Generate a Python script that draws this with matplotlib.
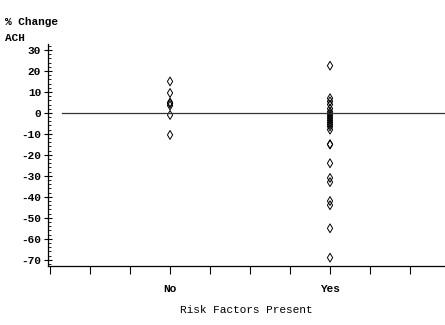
import numpy as np
import matplotlib
matplotlib.use("Agg")
import matplotlib.pyplot as plt
from matplotlib.ticker import MultipleLocator

# % change in ACH
no_vals = [15, 9.5, 5, 4.5, 3.5, -1, -10.5]
yes_vals = [22.5, 7, 5.5, 4, 2, 0.5, -0.5, -1.5, -2.5, -3.5, -4.5, -5.5,
            -6.5, -8, -15, -15, -24, -31, -33, -42, -44, -55, -69]
groups = ["No", "Yes"]
group_pos = [3, 7]

plt.rcParams["font.family"] = ["Liberation Mono", "DejaVu Sans Mono"]
plt.rcParams["font.weight"] = "bold"

fig = plt.figure(figsize=(4.45, 3.25), dpi=100)
ax = fig.add_axes([0.108, 0.182, 0.892, 0.683])

mk = dict(marker="d", s=20, facecolors="none", edgecolors="black", linewidths=0.7)
ax.scatter([group_pos[0]] * len(no_vals), no_vals, **mk)
ax.scatter([group_pos[1]] * len(yes_vals), yes_vals, **mk)

# reference line at 0
ax.axhline(0, xmin=0.035, xmax=1, color="#333333", lw=0.9)

ax.set_xlim(-0.05, 9.875)
ax.set_ylim(-72.9, 32.9)

ax.set_xticks(range(0, 10))
ax.set_xticklabels(["" if i not in group_pos else groups[group_pos.index(i)] for i in range(10)],
                   fontsize=8)
ax.set_yticks(range(-70, 31, 10))
ax.set_yticklabels([str(v) for v in range(-70, 31, 10)], fontsize=8)
ax.yaxis.set_minor_locator(MultipleLocator(2))
ax.tick_params(axis="y", which="major", direction="inout", length=6, width=0.8, pad=2)
ax.tick_params(axis="y", which="minor", direction="in", length=2.5, width=0.6)
ax.tick_params(axis="x", direction="out", length=6, width=0.8, pad=7)

ax.spines["right"].set_visible(False)
ax.spines["top"].set_visible(False)
ax.spines["left"].set_linewidth(0.9)
ax.spines["bottom"].set_linewidth(0.9)

fig.text(0.011, 0.932, "% Change", fontsize=8, ha="left", va="center")
fig.text(0.011, 0.883, "ACH", fontsize=8, ha="left", va="center")
ax.set_xlabel("Risk Factors Present", fontsize=8, labelpad=8)

fig.savefig("out.png", dpi=100)
